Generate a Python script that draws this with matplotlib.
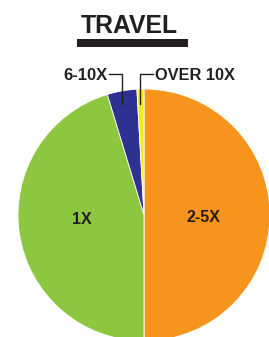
import matplotlib
matplotlib.use("Agg")
import matplotlib.pyplot as plt
from matplotlib.patches import Rectangle

categories = ["2-5X", "1X", "6-10X", "OVER 10X"]
values = [50.0, 45.3, 3.8, 0.9]
colors = ["#F7941D", "#8DC63F", "#2E3192", "#F5EB1A"]
title = "TRAVEL"

W, H = 269, 337
fig = plt.figure(figsize=(W / 100, H / 100), dpi=100)
ax = fig.add_axes([0, 0, 1, 1])
ax.set_xlim(0, W)
ax.set_ylim(0, H)
ax.set_aspect("equal")
ax.axis("off")

cx, cy, r = 144, H - 215, 126
ax.pie(values, colors=colors, startangle=90, counterclock=False,
       center=(cx, cy), radius=r, frame=True,
       wedgeprops=dict(edgecolor="white", linewidth=0.6))
ax.set_xlim(0, W)
ax.set_ylim(0, H)
ax.axis("off")

font = "Liberation Sans"
ink = "#231F20"
ax.text(129, H - 26, title, ha="center", va="center", fontsize=17.8,
        fontweight="bold", family=font, color=ink)
ax.add_patch(Rectangle((77, H - 47), 111, 8, color=ink, lw=0))

ax.text(82, H - 219, categories[1], ha="center", va="center", fontsize=11.5,
        fontweight="bold", family=font, color=ink)
ax.text(203, H - 218, categories[0], ha="center", va="center", fontsize=11.5,
        fontweight="bold", family=font, color=ink)

ax.text(108, H - 75, categories[2], ha="right", va="center", fontsize=12,
        fontweight="bold", family=font, color=ink)
ax.text(155, H - 75, categories[3], ha="left", va="center", fontsize=11.8,
        fontweight="bold", family=font, color=ink)

ax.plot([109, 122, 122], [H - 74, H - 74, H - 104], color=ink, lw=1)
ax.plot([153, 140, 140], [H - 74, H - 74, H - 104], color=ink, lw=1)

fig.savefig("out.png", dpi=100)
